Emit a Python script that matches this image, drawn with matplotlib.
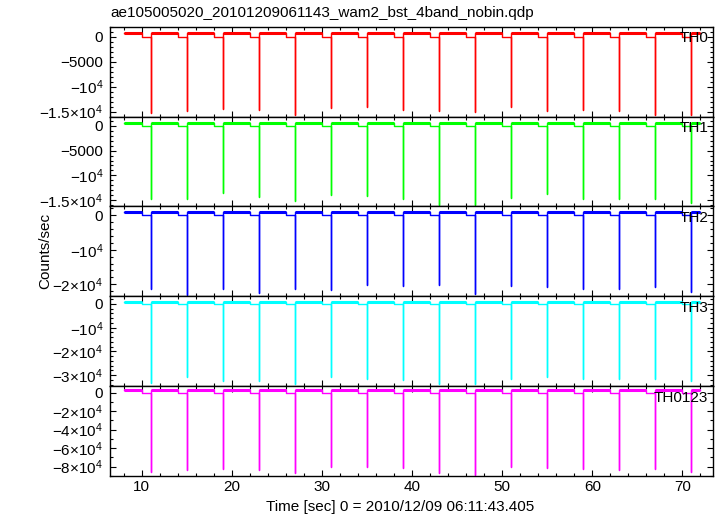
import numpy as np
import matplotlib
matplotlib.use("Agg")
import matplotlib.pyplot as plt
from matplotlib.ticker import MultipleLocator, FixedLocator, FixedFormatter

plt.rcParams['font.family'] = ['Liberation Sans', 'DejaVu Sans']
plt.rcParams['mathtext.fontset'] = 'custom'
plt.rcParams['mathtext.rm'] = 'Liberation Sans'
plt.rcParams['mathtext.it'] = 'Liberation Sans'
plt.rcParams['font.size'] = 11

title = "ae105005020_20101209061143_wam2_bst_4band_nobin.qdp"
xlabel = "Time [sec] 0 = 2010/12/09 06:11:43.405"
ylabel = "Counts/sec"

# segmenty danych (start, koniec) i czasy skokow w dol
seg_start = [8, 11, 15, 19, 23, 27, 31, 35, 39, 43, 47, 51, 55, 59, 63, 67, 71]
seg_end = [10, 14, 18, 22, 26, 30, 34, 38, 42, 46, 50, 54, 58, 62, 66, 70, 72]
dip_t = [11, 15, 19, 23, 27, 31, 35, 39, 43, 47, 51, 55, 59, 63, 67, 71]

names = ["TH0", "TH1", "TH2", "TH3", "TH0123"]
colors = ["#ff0000", "#00ff00", "#0000ff", "#00ffff", "#ff00ff"]
levels = [650, 650, 900, 1000, 3200]

dip_th0 = [-15300, -14900, -14400, -14600, -15700, -14300, -14000, -14600,
           -14900, -15100, -14100, -14900, -14600, -14900, -15700, -15700]
dip_th1 = [-14800, -14800, -13600, -14400, -15100, -14000, -14200, -14800,
           -16000, -16000, -14600, -13800, -14800, -14800, -14800, -15600]
dip_th2 = [-21300, -23200, -21500, -22500, -21300, -21750, -20300, -20600,
           -20300, -22700, -20600, -20800, -21500, -21500, -20800, -22200]
dip_th3 = [-33200, -30900, -32400, -32400, -33800, -30700, -31800, -32100,
           -33800, -33800, -31800, -30700, -31800, -31800, -31800, -32400]
dip_sum = [-85400, -83600, -82800, -83600, -86500, -80000, -80000, -81700,
           -87200, -89000, -80000, -81000, -82800, -83600, -82800, -86000]
dips = [dip_th0, dip_th1, dip_th2, dip_th3, dip_sum]

ylims = [(-16000, 2000), (-16300, 1900), (-23500, 2500), (-34700, 3200), (-90300, 6900)]
yticks = [
    ([0, -5000, -10000, -15000], ["0", "\u22125000", "\u221210$^{4}$", "\u22121.5\u00d710$^{4}$"], 1000),
    ([0, -5000, -10000, -15000], ["0", "\u22125000", "\u221210$^{4}$", "\u22121.5\u00d710$^{4}$"], 1000),
    ([0, -10000, -20000], ["0", "\u221210$^{4}$", "\u22122\u00d710$^{4}$"], 2000),
    ([0, -10000, -20000, -30000], ["0", "\u221210$^{4}$", "\u22122\u00d710$^{4}$", "\u22123\u00d710$^{4}$"], 2000),
    ([0, -20000, -40000, -60000, -80000],
     ["0", "\u22122\u00d710$^{4}$", "\u22124\u00d710$^{4}$", "\u22126\u00d710$^{4}$", "\u22128\u00d710$^{4}$"], 10000),
]


def build_path(level, dipv):
    xs, ys = [], []
    for i in range(len(seg_start)):
        s, e = seg_start[i], seg_end[i]
        if i > 0:
            # przerwa na zerze, potem skok w dol
            xs += [s, s]
            ys += [0, dipv[i - 1]]
        xs += [s, e]
        ys += [level, level]
        if i < len(seg_start) - 1:
            xs += [e]
            ys += [0]
    return xs, ys


fig = plt.figure(figsize=(7.2, 5.16), dpi=100)
axes = fig.subplots(5, 1, sharex=True)
fig.subplots_adjust(left=0.1528, right=0.9903, top=0.9483, bottom=0.0771, hspace=0)

for k, ax in enumerate(axes):
    xs, ys = build_path(levels[k], dips[k])
    ax.plot(xs, ys, color=colors[k], lw=1.0)
    ax.hlines([levels[k]] * len(seg_start), seg_start, seg_end, color=colors[k], lw=2.2)
    ax.set_xlim(6.48, 73.4)
    ax.set_ylim(*ylims[k])
    ticks, labels, minor = yticks[k]
    ax.yaxis.set_major_locator(FixedLocator(ticks))
    ax.yaxis.set_major_formatter(FixedFormatter(labels))
    ax.yaxis.set_minor_locator(MultipleLocator(minor))
    ax.xaxis.set_major_locator(MultipleLocator(10))
    ax.xaxis.set_minor_locator(MultipleLocator(2))
    ax.tick_params(which='both', direction='in', top=True, right=True, colors='black')
    ax.tick_params(which='major', length=4.5, width=0.8, pad=5)
    ax.tick_params(which='minor', length=2.5, width=0.8)
    ax.tick_params(axis='y', labelsize=11)
    ax.tick_params(axis='x', labelsize=11, pad=3)
    for sp in ax.spines.values():
        sp.set_linewidth(1.0)
    ax.text(0.992, 0.87, names[k], transform=ax.transAxes, ha='right', va='center', fontsize=11)

fig.text(0.5556, 0.0174, xlabel, ha='center', va='center', fontsize=11)
fig.text(0.1528, 0.975, title, ha='left', va='center', fontsize=11)
fig.text(0.0625, 0.513, ylabel, rotation=90, ha='center', va='center', fontsize=11)

fig.savefig("out.png", dpi=100)
